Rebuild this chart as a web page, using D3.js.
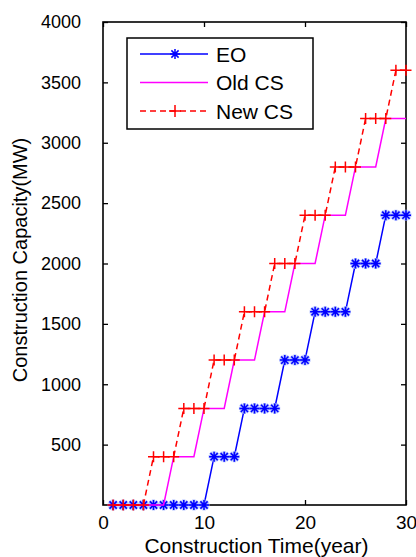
<!DOCTYPE html>
<html>
<head>
<meta charset="utf-8">
<script src="https://cdn.jsdelivr.net/npm/d3@7"></script>
<style>
  body { margin: 0; background: #fff; }
  svg text { font-family: "Liberation Sans", Arial, sans-serif; fill: #000; }
</style>
</head>
<body>
<div id="chart"></div>
<script>
// construction year (x) and capacity in MW (y)
var years = [1,2,3,4,5,6,7,8,9,10,11,12,13,14,15,16,17,18,19,20,21,22,23,24,25,26,27,28,29,30];
var eoValues = [0,0,0,0,0,0,0,0,0,0,400,400,400,800,800,800,800,1200,1200,1200,1600,1600,1600,1600,2000,2000,2000,2400,2400,2400];
var oldCsValues = [0,0,0,0,0,0,400,400,400,800,800,800,1200,1200,1200,1600,1600,1600,2000,2000,2000,2400,2400,2400,2800,2800,2800,3200,3200,3200];
var newCsValues = [0,0,0,0,400,400,400,800,800,800,1200,1200,1200,1600,1600,1600,2000,2000,2000,2400,2400,2400,2800,2800,2800,3200,3200,3200,3600,3600];
var seriesNames = ["EO", "Old CS", "New CS"];
var xTicks = [0, 10, 20, 30];
var yTicks = [500, 1000, 1500, 2000, 2500, 3000, 3500, 4000];

var width = 416, height = 557;
var plot = {left: 103, right: 406, top: 22, bottom: 505};

var svg = d3.select("#chart").append("svg")
  .attr("width", width)
  .attr("height", height);

var x = d3.scaleLinear().domain([0, 30]).range([plot.left, plot.right]);
var y = d3.scaleLinear().domain([0, 4000]).range([plot.bottom, plot.top]);

//Axes with inward ticks like matlab
svg.append("g")
  .attr("transform", "translate(0," + plot.bottom + ")")
  .call(d3.axisBottom(x).tickValues(xTicks).tickFormat(d3.format("d")).tickSizeInner(-5).tickSizeOuter(0).tickPadding(11))
  .call(g => g.selectAll("text").attr("font-size", 19));
svg.append("g")
  .attr("transform", "translate(0," + plot.top + ")")
  .call(d3.axisTop(x).tickValues(xTicks).tickSizeInner(-5).tickSizeOuter(0).tickFormat(""));
svg.append("g")
  .attr("transform", "translate(" + plot.left + ",0)")
  .call(d3.axisLeft(y).tickValues(yTicks).tickFormat(d3.format("d")).tickSizeInner(-5).tickSizeOuter(0).tickPadding(22))
  .call(g => g.selectAll("text").attr("font-size", 18));
svg.append("g")
  .attr("transform", "translate(" + plot.right + ",0)")
  .call(d3.axisRight(y).tickValues(yTicks).tickSizeInner(-5).tickSizeOuter(0).tickFormat(""));
svg.selectAll(".domain").remove();
svg.selectAll(".tick line").attr("stroke", "#000").attr("stroke-width", 1.3);

svg.append("rect")
  .attr("x", plot.left).attr("y", plot.top)
  .attr("width", plot.right - plot.left).attr("height", plot.bottom - plot.top)
  .attr("fill", "none").attr("stroke", "#000").attr("stroke-width", 1.6);

//Axis titles
svg.append("text")
  .attr("x", (plot.left + plot.right) / 2 + 2)
  .attr("y", 553)
  .attr("text-anchor", "middle")
  .attr("font-size", 21)
  .text("Construction Time(year)");
svg.append("text")
  .attr("transform", "translate(27," + 260 + ") rotate(-90)")
  .attr("text-anchor", "middle")
  .attr("font-size", 20)
  .text("Construction Capacity(MW)");

function starPath (s) {
  var d = s * 0.72;
  return "M" + (-s) + ",0H" + s + "M0," + (-s) + "V" + s +
    "M" + (-d) + "," + (-d) + "L" + d + "," + d + "M" + (-d) + "," + d + "L" + d + "," + (-d);
}
function plusPath (s) {
  return "M" + (-s) + ",0H" + s + "M0," + (-s) + "V" + s;
}

var line = d3.line()
  .x(function (d) { return x(d[0]); })
  .y(function (d) { return y(d[1]); });

var eoData = years.map(function (yr, i) { return [yr, eoValues[i]]; });
var oldData = years.map(function (yr, i) { return [yr, oldCsValues[i]]; });
var newData = years.map(function (yr, i) { return [yr, newCsValues[i]]; });

//EO, blue with asterisks
svg.append("path").datum(eoData)
  .attr("d", line).attr("fill", "none")
  .attr("stroke", "#0000ff").attr("stroke-width", 1.5);
svg.selectAll(".eoHalo").data(eoData).enter().append("path")
  .attr("class", "eoHalo")
  .attr("transform", function (d) { return "translate(" + x(d[0]) + "," + y(d[1]) + ")"; })
  .attr("d", starPath(5.5))
  .attr("fill", "none").attr("stroke", "#9db0ff").attr("stroke-width", 3.2).attr("opacity", 0.8);
svg.selectAll(".eoMark").data(eoData).enter().append("path")
  .attr("class", "eoMark")
  .attr("transform", function (d) { return "translate(" + x(d[0]) + "," + y(d[1]) + ")"; })
  .attr("d", starPath(5))
  .attr("fill", "none").attr("stroke", "#0000ff").attr("stroke-width", 1.5);

//Old CS, magenta solid
svg.append("path").datum(oldData)
  .attr("d", line).attr("fill", "none")
  .attr("stroke", "#ff00ff").attr("stroke-width", 1.5);

//New CS, red dashed with plus markers
svg.append("path").datum(newData)
  .attr("d", line).attr("fill", "none")
  .attr("stroke", "#ff0000").attr("stroke-width", 1.5)
  .attr("stroke-dasharray", "6,4");
svg.selectAll(".newMark").data(newData).enter().append("path")
  .attr("class", "newMark")
  .attr("transform", function (d) { return "translate(" + x(d[0]) + "," + y(d[1]) + ")"; })
  .attr("d", plusPath(5.5))
  .attr("fill", "none").attr("stroke", "#ff0000").attr("stroke-width", 1.5);

//Legend
var legend = svg.append("g");
legend.append("rect")
  .attr("x", 127).attr("y", 38).attr("width", 186).attr("height", 91)
  .attr("fill", "#fff").attr("stroke", "#000").attr("stroke-width", 1.5);
var legendStyles = [
  {color: "#0000ff", dash: null, marker: starPath(5)},
  {color: "#ff00ff", dash: null, marker: null},
  {color: "#ff0000", dash: "6,4", marker: plusPath(6)}
];
seriesNames.forEach(function (name, i) {
  var ly = 54 + i * 28.5;
  var st = legendStyles[i];
  legend.append("line")
    .attr("x1", 140).attr("x2", 208).attr("y1", ly).attr("y2", ly)
    .attr("stroke", st.color).attr("stroke-width", 1.5)
    .attr("stroke-dasharray", st.dash);
  if (st.marker) {
    legend.append("path")
      .attr("transform", "translate(175," + ly + ")")
      .attr("d", st.marker)
      .attr("fill", "none").attr("stroke", st.color).attr("stroke-width", 1.5);
  }
  legend.append("text")
    .attr("x", 216).attr("y", ly + 7.5)
    .attr("font-size", 21)
    .text(name);
});
</script>
</body>
</html>
